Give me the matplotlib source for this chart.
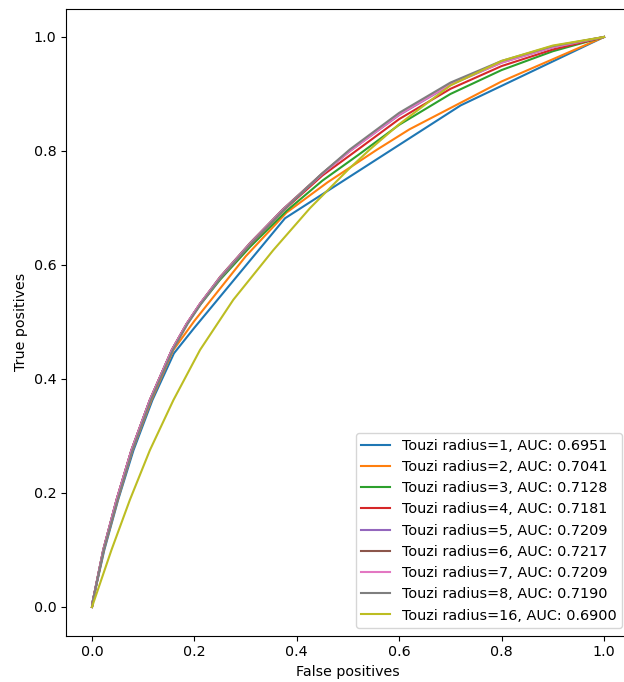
import matplotlib
matplotlib.use("Agg")
import matplotlib.pyplot as plt

plt.rcParams["font.size"] = 10.3

labels = ["Touzi radius=1, AUC: 0.6951", "Touzi radius=2, AUC: 0.7041",
          "Touzi radius=3, AUC: 0.7128", "Touzi radius=4, AUC: 0.7181",
          "Touzi radius=5, AUC: 0.7209", "Touzi radius=6, AUC: 0.7217",
          "Touzi radius=7, AUC: 0.7209", "Touzi radius=8, AUC: 0.7190",
          "Touzi radius=16, AUC: 0.6900"]

fpr_r1 = [0, 0.002, 0.024, 0.051, 0.081, 0.118, 0.16, 0.2, 0.377, 0.72, 1.0]
tpr_r1 = [0, 0.012, 0.1, 0.188, 0.275, 0.363, 0.445, 0.49, 0.682, 0.88, 1.0]

fpr_r2 = [0, 0.002, 0.023, 0.05, 0.079, 0.116, 0.159, 0.2, 0.3, 0.38, 0.46, 0.556, 0.62, 0.8, 1.0]
tpr_r2 = [0, 0.012, 0.1, 0.188, 0.275, 0.363, 0.451, 0.502, 0.615, 0.692, 0.745, 0.802, 0.838, 0.922, 1.0]

fpr_r3 = [0, 0.002, 0.022, 0.048, 0.077, 0.113, 0.156, 0.185, 0.211, 0.25, 0.309, 0.38, 0.45, 0.52, 0.6, 0.7, 0.8, 0.9, 1.0]
tpr_r3 = [0, 0.012, 0.1, 0.188, 0.275, 0.363, 0.451, 0.496, 0.53, 0.574, 0.632, 0.695, 0.748, 0.793, 0.846, 0.9, 0.942, 0.975, 1.0]

fpr_r4 = [0, 0.002, 0.022, 0.048, 0.077, 0.113, 0.156, 0.185, 0.211, 0.25, 0.309, 0.373, 0.45, 0.523, 0.6, 0.7, 0.8, 0.9, 1.0]
tpr_r4 = [0, 0.012, 0.1, 0.188, 0.275, 0.363, 0.451, 0.497, 0.532, 0.577, 0.636, 0.695, 0.757, 0.805, 0.856, 0.909, 0.949, 0.978, 1.0]

fpr_r5 = [0, 0.002, 0.022, 0.048, 0.077, 0.113, 0.156, 0.185, 0.211, 0.25, 0.309, 0.373, 0.45, 0.504, 0.6, 0.7, 0.8, 0.9, 1.0]
tpr_r5 = [0, 0.012, 0.1, 0.188, 0.275, 0.363, 0.451, 0.497, 0.532, 0.578, 0.638, 0.697, 0.76, 0.8, 0.863, 0.916, 0.955, 0.982, 1.0]

fpr_r6 = [0, 0.002, 0.022, 0.048, 0.077, 0.113, 0.156, 0.185, 0.211, 0.25, 0.309, 0.373, 0.45, 0.504, 0.6, 0.7, 0.8, 0.9, 1.0]
tpr_r6 = [0, 0.012, 0.1, 0.188, 0.275, 0.363, 0.451, 0.497, 0.532, 0.579, 0.639, 0.698, 0.761, 0.801, 0.865, 0.918, 0.956, 0.983, 1.0]

fpr_r7 = [0, 0.002, 0.022, 0.048, 0.077, 0.113, 0.156, 0.185, 0.211, 0.25, 0.309, 0.373, 0.45, 0.504, 0.6, 0.7, 0.8, 0.9, 1.0]
tpr_r7 = [0, 0.012, 0.1, 0.188, 0.275, 0.363, 0.451, 0.497, 0.532, 0.578, 0.638, 0.697, 0.76, 0.8, 0.864, 0.917, 0.955, 0.982, 1.0]

fpr_r8 = [0, 0.002, 0.023, 0.05, 0.079, 0.115, 0.158, 0.187, 0.213, 0.252, 0.311, 0.375, 0.45, 0.504, 0.6, 0.7, 0.8, 0.9, 1.0]
tpr_r8 = [0, 0.012, 0.1, 0.188, 0.275, 0.363, 0.451, 0.497, 0.532, 0.578, 0.638, 0.697, 0.761, 0.803, 0.867, 0.92, 0.958, 0.984, 1.0]

fpr_r16 = [0, 0.038, 0.074, 0.113, 0.159, 0.211, 0.276, 0.354, 0.426, 0.5, 0.543, 0.6, 0.7, 0.8, 0.9, 1.0]
tpr_r16 = [0, 0.1, 0.188, 0.275, 0.363, 0.451, 0.539, 0.626, 0.7, 0.767, 0.803, 0.847, 0.915, 0.958, 0.985, 1.0]

fprs = [fpr_r1, fpr_r2, fpr_r3, fpr_r4, fpr_r5, fpr_r6, fpr_r7, fpr_r8, fpr_r16]
tprs = [tpr_r1, tpr_r2, tpr_r3, tpr_r4, tpr_r5, tpr_r6, tpr_r7, tpr_r8, tpr_r16]
colors = ["#1f77b4", "#ff7f0e", "#2ca02c", "#d62728", "#9467bd",
          "#8c564b", "#e377c2", "#7f7f7f", "#bcbd22"]

fig = plt.figure(figsize=(6.24, 6.82), dpi=100)
ax = fig.add_axes([66.4 / 624, 46.5 / 682, 563.2 / 624, 627 / 682])
for f, t, c, l in zip(fprs, tprs, colors, labels):
    ax.plot(f, t, color=c, label=l, linewidth=1.5)
ax.set_xlim(-0.05, 1.05)
ax.set_ylim(-0.05, 1.05)
ax.set_xticks([0, 0.2, 0.4, 0.6, 0.8, 1.0])
ax.set_yticks([0, 0.2, 0.4, 0.6, 0.8, 1.0])
ax.set_xlabel("False positives")
ax.set_ylabel("True positives")
ax.legend(loc="lower right", fontsize=10.4)
fig.savefig("out.png", dpi=100)
